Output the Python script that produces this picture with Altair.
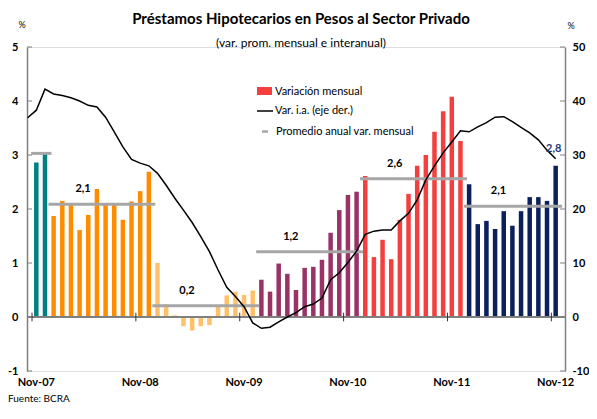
import altair as alt
import pandas as pd

# ---------------- data ----------------
# monthly variation (%), Nov-07 .. Nov-12 (left axis)
monthly = [2.86, 3.03,
           1.87, 2.15, 2.09, 1.61, 1.89, 2.37, 2.09, 2.09, 1.80, 2.14, 2.33, 2.69,
           1.00, 0.24, 0.03, -0.17, -0.25, -0.17, -0.15, 0.20, 0.40, 0.47, 0.41, 0.49,
           0.69, 0.47, 0.99, 0.80, 0.50, 0.91, 0.93, 1.06, 1.56, 1.98, 2.26, 2.32,
           2.61, 1.11, 1.43, 1.07, 1.80, 2.28, 2.80, 3.00, 3.43, 3.81, 4.08, 3.26,
           2.46, 1.72, 1.78, 1.63, 1.96, 1.69, 1.96, 2.22, 2.22, 2.15, 2.80]

# year-on-year variation (%), Oct-07 .. Nov-12 (right axis)
yoy = [36.9, 38.3, 42.2,
       41.3, 41.0, 40.6, 40.0, 39.2, 38.9, 37.0, 34.3, 31.5, 29.2, 28.5, 28.0,
       26.6, 24.4, 22.0, 19.8, 17.5, 14.9, 12.1, 8.7, 5.5, 3.8, 1.9, -1.1,
       -2.1, -1.9, -0.9, 0.0, 0.8, 1.9, 2.4, 3.5, 6.9, 8.2, 10.1, 12.2,
       15.3, 15.9, 16.1, 16.1, 17.8, 19.2, 21.7, 25.4, 28.0, 30.4, 32.4, 34.5,
       34.3, 35.2, 36.0, 37.0, 37.1, 36.2, 35.1, 34.1, 32.8, 30.9, 29.3]

periods = ["2007", "2008", "2009", "2010", "2011", "2012"]
period_colors = ["#008080", "#ff8c00", "#ffc06a", "#993366", "#f43f3f", "#0b1f5c"]
period_start = [0, 2, 14, 26, 38, 50]
period_end = [1, 13, 25, 37, 49, 60]
avg_values = [3.03, 2.09, 0.21, 1.21, 2.56, 2.05]
avg_labels = ["", "2,1", "0,2", "1,2", "2,6", "2,1"]

x_tick_labels = ["Nov-07", "Nov-08", "Nov-09", "Nov-10", "Nov-11", "Nov-12"]
x_tick_idx = [0, 12, 24, 36, 48, 60]
left_ticks = [-1, 0, 1, 2, 3, 4, 5]
right_ticks = [-10, 0, 10, 20, 30, 40, 50]
year_bounds = [-0.5, 11.5, 23.5, 35.5, 47.5, 59.5]

# ---------------- tables ----------------
def period_of(i):
    for p, s, e in zip(periods, period_start, period_end):
        if s <= i <= e:
            return p
    return periods[-1]

bar_df = pd.DataFrame({
    "idx": list(range(len(monthly))),
    "val": monthly,
    "period": [period_of(i) for i in range(len(monthly))],
})
line_df = pd.DataFrame({"idx": list(range(-1, len(yoy) - 1)), "yoy": yoy})
avg_df = pd.DataFrame({
    "period": periods,
    "x1": [s - 0.6 for s in period_start],
    "x2": [e + 0.75 for e in period_end],
    "lx": [s + 3.4 for s in period_start],
    "avg": avg_values,
    "label": avg_labels,
})
last_df = bar_df.tail(1).assign(label="2,8")
bound_df = pd.DataFrame({"b": year_bounds, "lo": [-0.08] * len(year_bounds),
                         "hi": [0.08] * len(year_bounds)})
xlab_df = pd.DataFrame({"idx": x_tick_idx, "label": x_tick_labels})
lt_df = pd.DataFrame({"v": left_ticks})
one = pd.DataFrame({"a": [0]})

W, H = 538, 324
FONT = "Lato"
AX = "#808080"

xscale = alt.Scale(domain=[-0.5, 60.5], nice=False, zero=False)
yscale = alt.Scale(domain=[-1, 5], nice=False)

hyphen_expr = "replace(datum.label, '\u2212', '-')"

bars = alt.Chart(bar_df).mark_bar(size=4.5).encode(
    x=alt.X("idx:Q", scale=xscale, axis=None),
    y=alt.Y("val:Q", scale=yscale,
            axis=alt.Axis(values=left_ticks, labelExpr=hyphen_expr, ticks=False, tickSize=0,
                          grid=False, title=None, orient="left",
                          domainColor=AX, domainWidth=1.5, labelFont=FONT,
                          labelFontWeight="bold", labelFontSize=11, labelColor="black",
                          labelPadding=9)),
    color=alt.Color("period:N", scale=alt.Scale(domain=periods, range=period_colors), legend=None),
)

# x-axis labels (Nov of each year)
xlabels = alt.Chart(xlab_df).mark_text(font=FONT, fontWeight="bold", fontSize=11,
                                       color="black", baseline="middle").encode(
    x=alt.X("idx:Q", scale=xscale, axis=None),
    y=alt.value(H + 12),
    text="label:N")

zero_line = alt.Chart(one).mark_rule(color=AX, strokeWidth=2).encode(
    y=alt.datum(0, scale=yscale, axis=None))

bounds = alt.Chart(bound_df).mark_rule(color="#333333", strokeWidth=1).encode(
    x=alt.X("b:Q", scale=xscale, axis=None),
    y=alt.Y("lo:Q", scale=yscale, axis=None), y2="hi:Q")

avg_rules = alt.Chart(avg_df).mark_rule(color="#a6a6a6", strokeWidth=3).encode(
    x=alt.X("x1:Q", scale=xscale, axis=None), x2="x2:Q",
    y=alt.Y("avg:Q", scale=yscale, axis=None))

avg_text = alt.Chart(avg_df).mark_text(font=FONT, fontWeight="bold", fontSize=11,
                                       color="black", dy=-15).encode(
    x=alt.X("lx:Q", scale=xscale, axis=None),
    y=alt.Y("avg:Q", scale=yscale, axis=None),
    text="label:N")

last_text = alt.Chart(last_df).mark_text(font=FONT, fontWeight="bold", fontSize=11,
                                         color="#1f3a7a", dy=-17, dx=-2).encode(
    x=alt.X("idx:Q", scale=xscale, axis=None),
    y=alt.Y("val:Q", scale=yscale, axis=None),
    text="label:N")

lticks = alt.Chart(lt_df).mark_rule(color=AX, strokeWidth=1).encode(
    x=alt.value(0), x2=alt.value(5), y=alt.Y("v:Q", scale=yscale, axis=None))
rticks = alt.Chart(lt_df).mark_rule(color=AX, strokeWidth=1).encode(
    x=alt.value(W - 5), x2=alt.value(W), y=alt.Y("v:Q", scale=yscale, axis=None))

def txt(s, x, y, size=11, weight="normal", align="left", color="black"):
    return alt.Chart(one).mark_text(font=FONT, fontSize=size, fontWeight=weight, align=align,
                                    baseline="middle", color=color).encode(
        x=alt.value(x), y=alt.value(y), text=alt.value(s))

title = txt("Préstamos Hipotecarios en Pesos al Sector Privado", 274, -28.5, 15, "bold", "center")
subtitle = txt("(var. prom. mensual e interanual)", 274, -4, 12, "normal", "center")
pct_l = txt("%", -5, -22, 9, "normal", "center")
pct_r = txt("%", W + 6, -21, 9, "normal", "center")
source = txt("Fuente: BCRA", -19, 352, 10, "normal", "left")

leg_rect = alt.Chart(one).mark_rect(color="#f43f3f").encode(
    x=alt.value(230), x2=alt.value(245), y=alt.value(40), y2=alt.value(48))
leg_line = alt.Chart(one).mark_rule(color="black", strokeWidth=1.5).encode(
    x=alt.value(230), x2=alt.value(246), y=alt.value(64))
leg_dash = alt.Chart(one).mark_rule(color="#a6a6a6", strokeWidth=2.5).encode(
    x=alt.value(235), x2=alt.value(241), y=alt.value(84.5))
leg_t1 = txt("Variación mensual", 248, 44.5)
leg_t2 = txt("Var. i.a. (eje der.)", 248, 64)
leg_t3 = txt("Promedio anual var. mensual", 249, 84.5)

line = alt.Chart(line_df).mark_line(color="black", strokeWidth=1.5, clip=True).encode(
    x=alt.X("idx:Q", scale=xscale, axis=None),
    y=alt.Y("yoy:Q", scale=alt.Scale(domain=[-10, 50], nice=False),
            axis=alt.Axis(orient="right", values=right_ticks, labelExpr=hyphen_expr,
                          ticks=False, tickSize=0, grid=False,
                          title=None, domainColor=AX, domainWidth=1.5, labelFont=FONT,
                          labelFontWeight="bold", labelFontSize=11, labelColor="black",
                          labelPadding=7)),
)

chart = alt.layer(
    bars, avg_rules, zero_line, bounds, line, avg_text, last_text, lticks, rticks, xlabels,
    title, subtitle, pct_l, pct_r, source,
    leg_rect, leg_line, leg_dash, leg_t1, leg_t2, leg_t3,
).resolve_scale(y="independent").properties(
    width=W, height=H,
    autosize=alt.AutoSizeParams(type="none"),
    padding={"left": 19, "top": 39, "right": 24, "bottom": 35},
).configure_view(stroke=None).configure(background="white")

chart.save("out.html", embed_options={"renderer": "svg", "actions": False})
